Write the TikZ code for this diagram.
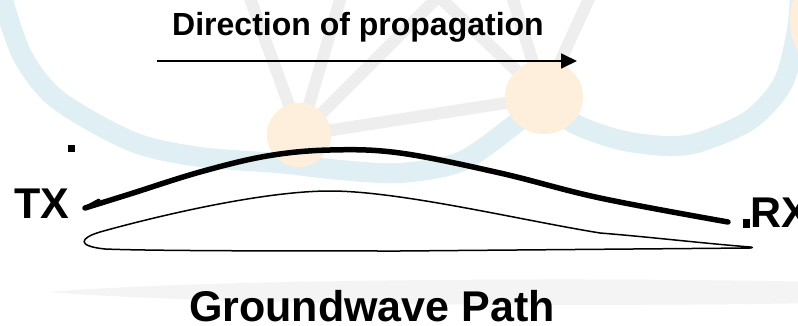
\documentclass[tikz,border=0pt]{standalone}
\usepackage{fontspec}
\setmainfont{Liberation Sans}
\usetikzlibrary{arrows.meta}
\definecolor{wmblue}{HTML}{E0EFF3}
\definecolor{wmorange}{HTML}{FEEEDC}
\definecolor{wmgray}{HTML}{EEEEEE}
\definecolor{wmband}{HTML}{F4F4F4}
\tikzset{
  lbl/.style={font=\bfseries, inner sep=0pt, text=black, text depth=0pt},
  bluearc/.style={wmblue, line width=20pt},
  grayline/.style={wmgray, line width=12pt},
  orangedisc/.style={fill=wmorange, draw=none},
  wave/.style={line width=5.5pt, line cap=round, line join=round},
  earth/.style={line width=1.5pt, line join=round},
  dirarrow/.style={line width=1.8pt, -{Triangle[length=16pt,width=15pt]}},
  dot/.style={fill=black, draw=none}
}
\begin{document}
\begin{tikzpicture}[x=1pt,y=-1pt]
\useasboundingbox (0,0) rectangle (798,326);
\fill[white] (0,0) rectangle (798,326);
% ---- faint watermark ----
\begin{scope}
\clip (0,0) rectangle (798,326);
\fill[wmband] (50,292) .. controls (200,279) and (600,277) .. (820,282)
  -- (820,303) .. controls (600,307) and (200,305) .. (50,292) -- cycle;
\draw[bluearc] plot[smooth] coordinates {(0,-10) (22,55) (58,100) (133,142) (200,157) (277,163) (340,170) (400,173) (460,162) (510,128) (545,98)};
\draw[bluearc] plot[smooth] coordinates {(545,98) (573,123) (620,140) (667,146) (700,142) (750,120) (783,83) (797,30) (800,-10)};
\draw[grayline] (300,135) -- (247,-10);
\draw[grayline] (300,135) -- (343,-10);
\draw[grayline] (300,135) -- (445,-10);
\draw[grayline] (300,135) -- (544,97);
\draw[grayline] (544,97) -- (432,-10);
\draw[grayline] (544,97) -- (510,-10);
\draw[grayline] (544,97) -- (593,-10);
\fill[orangedisc] (299,135) ellipse (32pt and 32pt);
\fill[orangedisc] (544,97) ellipse (39pt and 37pt);
\fill[orangedisc] (812,20) ellipse (22pt and 40pt);
\end{scope}
% ---- diagram ----
\node[lbl, font=\bfseries\fontsize{32}{38}\selectfont, anchor=base] (title) at (358,36) {Direction of propagation};
\coordinate (arrS) at (157,61);
\coordinate (arrE) at (577,61);
\draw[dirarrow] (arrS) -- (arrE);
\node[lbl, font=\bfseries\fontsize{43}{50}\selectfont, anchor=base west] (tx) at (14,218) {TX};
\node[lbl, font=\bfseries\fontsize{43}{50}\selectfont, anchor=base west] (rx) at (750,227) {RX};
\node[lbl, font=\bfseries\fontsize{43}{50}\selectfont, anchor=base] (gp) at (372,321) {Groundwave Path};
\fill[dot] (68,145) rectangle (75,152);
\fill[dot] (743,219) rectangle (750,228);
% thick ground wave
\draw[wave] plot[smooth, tension=0.6] coordinates {(85,208) (130,194) (200,172) (267,156) (330,150) (400,153) (500,173) (600,198) (728,222)};
\draw[line width=3pt, line cap=round] (88,206) -- (99,200);
% earth lens
\draw[earth] (750,247) .. controls (700,243) and (650,237) .. (600,233)
  .. controls (520,220) and (400,191) .. (330,191)
  .. controls (260,191) and (150,218) .. (100,232)
  .. controls (80,238) and (76,246) .. (105,249)
  .. controls (150,251) and (300,251) .. (400,251) -- (750,248)
  .. controls (753,247.8) and (753,247.2) .. (750,247);
\end{tikzpicture}
\end{document}
